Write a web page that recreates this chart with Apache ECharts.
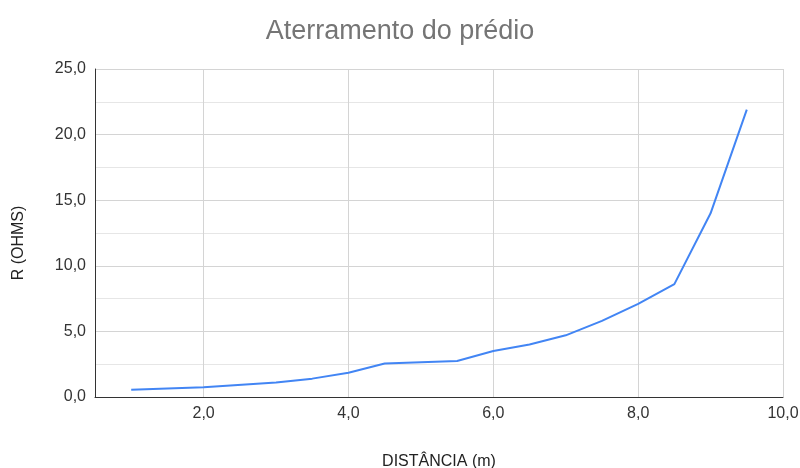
<!DOCTYPE html>
<html>
<head>
<meta charset="utf-8">
<script src="https://cdn.jsdelivr.net/npm/echarts@6/dist/echarts.min.js"></script>
<style>
  html, body { margin: 0; padding: 0; background: #fff; }
  #chart { width: 800px; height: 468px; }
</style>
</head>
<body>
<div id="chart"></div>
<script>
// Resistência de aterramento medida em função da distância do eletrodo
const distancias = [1.0, 2.0, 3.0, 3.5, 4.0, 4.5, 5.5, 6.0, 6.5, 7.0, 7.5, 8.0, 8.5, 9.0, 9.5];
const resistencias = [0.55, 0.75, 1.1, 1.4, 1.85, 2.55, 2.75, 3.5, 4.0, 4.7, 5.8, 7.1, 8.6, 14.0, 21.9];
const titulo = 'Aterramento do prédio';
const nomeEixoX = 'DISTÂNCIA (m)';
const nomeEixoY = 'R (OHMS)';

const pontos = distancias.map((d, i) => [d, resistencias[i]]);
const fmt = v => v.toFixed(1).replace('.', ',');
const fonte = '"Liberation Sans", Arial, sans-serif';

const chart = echarts.init(document.getElementById('chart'), null, { renderer: 'canvas' });
chart.setOption({
  animation: false,
  backgroundColor: '#ffffff',
  title: {
    text: titulo,
    left: 'center',
    top: 13,
    textStyle: { fontFamily: fonte, fontSize: 27, fontWeight: 'normal', color: '#757575' }
  },
  grid: { left: 95, right: 17, top: 69, bottom: 71, outerBoundsMode: 'none', containLabel: false },
  xAxis: {
    type: 'value',
    min: 0.5,
    max: 10,
    name: nomeEixoX,
    nameLocation: 'middle',
    nameGap: 57,
    nameTextStyle: { fontFamily: fonte, fontSize: 16, color: '#222' },
    axisLine: { show: true, lineStyle: { color: '#333', width: 1 } },
    axisTick: { show: false },
    axisLabel: {
      fontFamily: fonte, fontSize: 16, color: '#333', margin: 9,
      formatter: v => (Math.abs(v % 2) < 1e-9 ? fmt(v) : '')
    },
    splitLine: { show: true, lineStyle: { color: '#d4d4d4', width: 1 } }
  },
  yAxis: {
    type: 'value',
    min: 0,
    max: 25,
    interval: 5,
    name: nomeEixoY,
    nameLocation: 'middle',
    nameGap: 68,
    nameTextStyle: { fontFamily: fonte, fontSize: 16, color: '#222', padding: [0, 0, 0, -20] },
    axisLine: { show: true, lineStyle: { color: '#333', width: 1 } },
    axisTick: { show: false },
    axisLabel: { fontFamily: fonte, fontSize: 16, color: '#333', margin: 9, formatter: fmt },
    splitLine: { show: true, lineStyle: { color: '#d4d4d4', width: 1 } },
    minorTick: { show: false, splitNumber: 2 },
    minorSplitLine: { show: true, lineStyle: { color: '#e6e6e6', width: 1 } }
  },
  series: [{
    type: 'line',
    data: pontos,
    showSymbol: false,
    symbol: 'none',
    smooth: false,
    lineStyle: { color: '#4285F4', width: 2 },
    itemStyle: { color: '#4285F4' }
  }]
});
</script>
</body>
</html>
